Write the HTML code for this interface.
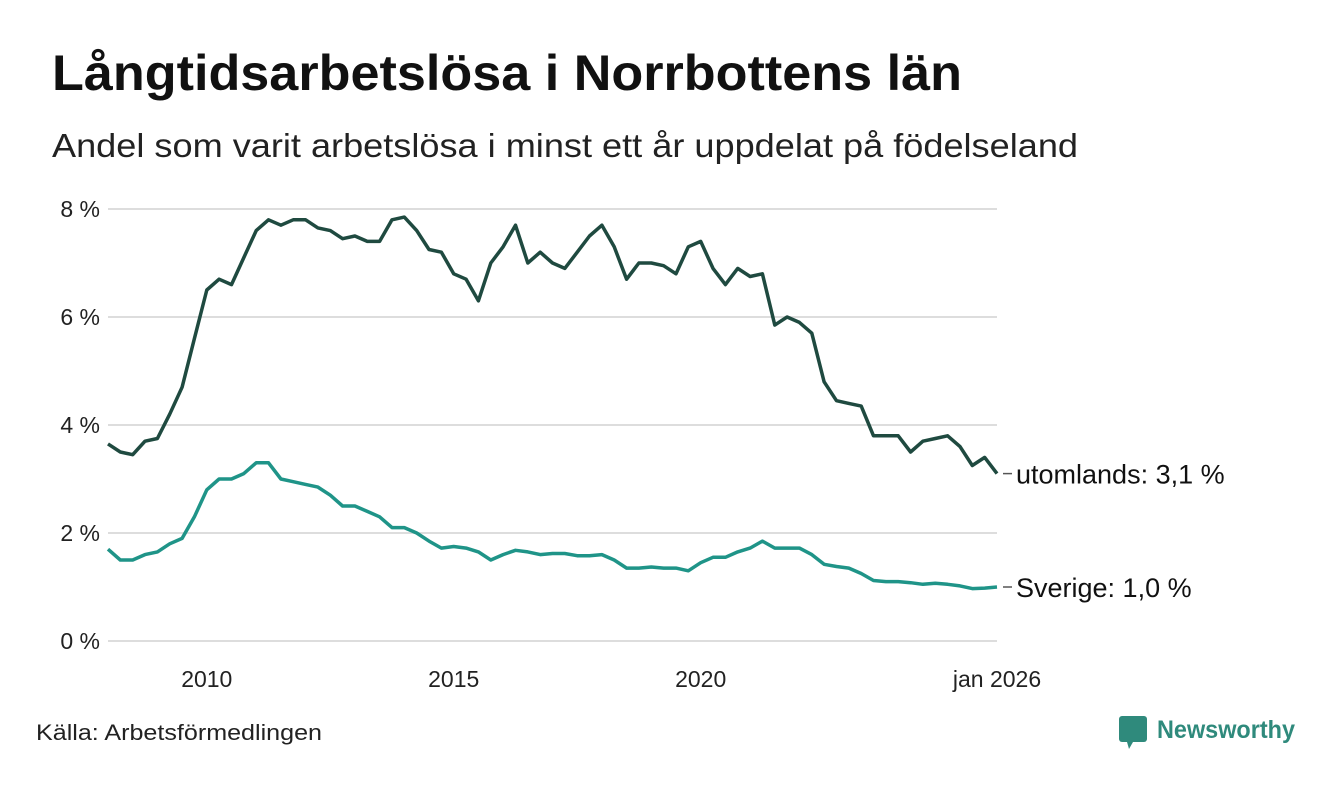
<!DOCTYPE html>
<html><head><meta charset="utf-8"><style>
body{margin:0;background:#fff;width:1340px;height:780px;overflow:hidden;font-family:"Liberation Sans",sans-serif;color:#111}
</style></head><body>
<svg width="1340" height="780">
<text x="52" y="90" font-size="50" font-weight="bold" fill="#111" textLength="910" lengthAdjust="spacingAndGlyphs">Långtidsarbetslösa i Norrbottens län</text>
<text x="52" y="157" font-size="33" fill="#222" textLength="1026" lengthAdjust="spacingAndGlyphs">Andel som varit arbetslösa i minst ett år uppdelat på födelseland</text>
<g id="grid"></g>
<g id="xax"></g>
<g id="lines"></g>
<text x="36" y="740" font-size="22" fill="#222" textLength="286" lengthAdjust="spacingAndGlyphs">Källa: Arbetsförmedlingen</text>
<g>
<rect x="1119" y="716" width="28" height="26" rx="3" fill="#2f8a7c"/>
<polygon points="1127,742 1133,742 1129,749" fill="#2f8a7c"/>
<text x="1157" y="738" font-size="25" font-weight="bold" fill="#2f8a7c" textLength="138" lengthAdjust="spacingAndGlyphs">Newsworthy</text>
</g>
</svg>
<script>
const startYear = 2008;
const utomlands = [3.65,3.5,3.45,3.7, 3.75,4.2,4.7,5.6, 6.5,6.7,6.6,7.1, 7.6,7.8,7.7,7.8, 7.8,7.65,7.6,7.45, 7.5,7.4,7.4,7.8, 7.85,7.6,7.25,7.2, 6.8,6.7,6.3,7.0, 7.3,7.7,7.0,7.2, 7.0,6.9,7.2,7.5, 7.7,7.3,6.7,7.0, 7.0,6.95,6.8,7.3, 7.4,6.9,6.6,6.9, 6.75,6.8,5.85,6.0, 5.9,5.7,4.8,4.45, 4.4,4.35,3.8,3.8, 3.8,3.5,3.7,3.75, 3.8,3.6,3.25,3.4, 3.1];
const sverige = [1.7,1.5,1.5,1.6, 1.65,1.8,1.9,2.3, 2.8,3.0,3.0,3.1, 3.3,3.3,3.0,2.95, 2.9,2.85,2.7,2.5, 2.5,2.4,2.3,2.1, 2.1,2.0,1.85,1.72, 1.75,1.72,1.65,1.5, 1.6,1.68,1.65,1.6, 1.62,1.62,1.58,1.58, 1.6,1.5,1.35,1.35, 1.37,1.35,1.35,1.3, 1.45,1.55,1.55,1.65, 1.72,1.85,1.72,1.72, 1.72,1.6,1.42,1.38, 1.35,1.25,1.12,1.1, 1.1,1.08,1.05,1.07, 1.05,1.02,0.97,0.98, 1.0];
const yTicks = [0,2,4,6,8];
const yTickLabels = ["0 %","2 %","4 %","6 %","8 %"];
const xTicks = [2010,2015,2020,2026];
const xTickLabels = ["2010","2015","2020","jan 2026"];
const seriesLabels = ["utomlands: 3,1 %","Sverige: 1,0 %"];

const NS="http://www.w3.org/2000/svg";
const x = t => 108 + (t-2008)*(997-108)/18;
const y = v => 641 - v*54;
function mk(tag, attrs, parent){const e=document.createElementNS(NS,tag);for(const k in attrs)e.setAttribute(k,attrs[k]);parent.appendChild(e);return e;}
const grid=document.getElementById('grid');
yTicks.forEach((v,i)=>{
  const l=mk('line',{x1:108,x2:997,y1:y(v),y2:y(v),stroke:'#ddd','stroke-width':2},grid);
  
  
  const t=mk('text',{x:100,y:y(v)+8,'text-anchor':'end','font-size':23,fill:'#222'},grid);
  t.textContent=yTickLabels[i];
  
  
});
const xax=document.getElementById('xax');
xTicks.forEach((v,i)=>{
  const t=mk('text',{x:x(v),y:687,'text-anchor':'middle','font-size':23,fill:'#222'},xax);
  t.textContent=xTickLabels[i];
  
  
});
const lines=document.getElementById('lines');
[[utomlands,'#1f4a40'],[sverige,'#1f9488']].forEach((s,si)=>{
  const d=s[0].map((v,i)=>(i?'L':'M')+x(startYear+i/4).toFixed(1)+','+y(v).toFixed(1)).join('');
  const p=mk('path',{d:d,fill:'none',stroke:s[1],'stroke-width':3.5,'stroke-linejoin':'round'},lines);
  
  
  const last=s[0][s[0].length-1];
  mk('line',{x1:1003,x2:1012,y1:y(last),y2:y(last),stroke:'#555','stroke-width':1.5},lines);
  const t=mk('text',{x:1016,y:y(last)+10,'font-size':27,fill:'#111'},lines);
  t.textContent=seriesLabels[si];
  
  
});
</script>
</body></html>
